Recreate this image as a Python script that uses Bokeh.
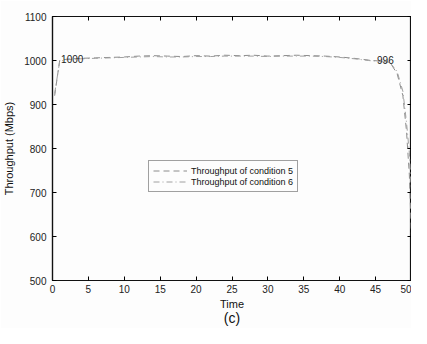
from bokeh.plotting import figure
from bokeh.models import (LinearAxis, Range1d, Legend, LegendItem, FixedTicker,
                          Label, CustomJSTickFormatter)
from bokeh.embed import file_html
from bokeh.resources import INLINE

# --- data ---
time5 = [0.3, 1, 2, 4, 6, 8, 10, 12, 14, 16, 18, 20, 22, 24, 26, 28, 30, 32, 34, 36, 38, 40, 42, 44, 46, 47, 48, 48.8, 49.3, 49.7, 50]
cond5 = [920, 1000, 1003, 1005, 1006, 1007, 1008, 1010, 1011, 1010, 1009, 1011, 1010, 1012, 1011, 1012, 1010, 1011, 1012, 1011, 1010, 1008, 1005, 1001, 998, 996, 970, 920, 840, 740, 600]
time6 = [0.3, 1, 2, 4, 6, 8, 10, 12, 14, 16, 18, 20, 22, 24, 26, 28, 30, 32, 34, 36, 38, 40, 42, 44, 46, 47, 48, 48.8, 49.3, 49.7, 50]
cond6 = [925, 998, 1002, 1004, 1005, 1006, 1007, 1008, 1009, 1008, 1008, 1009, 1009, 1010, 1010, 1010, 1009, 1010, 1010, 1010, 1009, 1007, 1004, 1000, 997, 995, 975, 930, 860, 790, 700]
x_ticks = [0, 5, 10, 15, 20, 25, 30, 35, 40, 45, 50]
y_ticks = [500, 600, 700, 800, 900, 1000, 1100]
ann_t = [1.2, 45.2]
ann_v = [1000, 996]
ann_txt = ["1000", "996"]
caption = "(c)"

FONT = "Liberation Sans"

p = figure(width=411, height=328, output_backend="svg", toolbar_location=None,
           x_range=Range1d(0, 50), y_range=Range1d(500, 1100),
           min_border_left=44, min_border_right=0, min_border_top=16, min_border_bottom=0,
           background_fill_color="#fdfdfd", border_fill_color="#fdfdfd")
p.xgrid.visible = False
p.ygrid.visible = False
p.outline_line_color = "#111111"
p.outline_line_width = 1.2

for ax, ticks in ((p.xaxis[0], x_ticks), (p.yaxis[0], y_ticks)):
    ax.ticker = FixedTicker(ticks=ticks)
    ax.major_tick_in = 4
    ax.major_tick_out = 0
    ax.minor_tick_line_color = None
    ax.axis_line_color = "#111111"
    ax.axis_line_width = 1.2
    ax.major_label_text_font = FONT
    ax.major_label_text_font_size = "10px"
    ax.major_label_text_color = "#222222"
    ax.axis_label_text_font = FONT
    ax.axis_label_text_font_size = "11px"
    ax.axis_label_text_font_style = "normal"
    ax.axis_label_text_color = "#111111"

p.xaxis.axis_label = "Time"
p.yaxis.axis_label = "Throughput (Mbps)"
p.xaxis.major_label_standoff = 4
p.xaxis.axis_label_standoff = 2
p.yaxis.major_label_standoff = 6
p.yaxis.axis_label_standoff = 6

blank = CustomJSTickFormatter(code="return '';")
top = LinearAxis(ticker=FixedTicker(ticks=x_ticks), major_tick_in=4, major_tick_out=0,
                 minor_tick_line_color=None, formatter=blank,
                 major_label_standoff=0, axis_line_color=None)
right = LinearAxis(ticker=FixedTicker(ticks=y_ticks), major_tick_in=4, major_tick_out=0,
                   minor_tick_line_color=None, formatter=blank,
                   major_label_standoff=0, axis_line_color=None)
p.add_layout(top, "above")
p.add_layout(right, "right")

# caption "(c)" as the label of an invisible extra axis below "Time"
cap = LinearAxis(ticker=FixedTicker(ticks=[]), major_tick_in=0, major_tick_out=0,
                 minor_tick_line_color=None, formatter=blank, major_label_standoff=0,
                 axis_line_color=None, axis_label=caption, axis_label_standoff=-3,
                 axis_label_text_font=FONT, axis_label_text_font_size="14px",
                 axis_label_text_font_style="normal", axis_label_text_color="#111111")
p.add_layout(cap, "below")

r5 = p.line(time5, cond5, line_color="#8c8c8c", line_width=1, line_dash="6 4")
r6 = p.line(time6, cond6, line_color="#a0a0a0", line_width=1, line_dash="6 3 1 3")

for t, v, s in zip(ann_t, ann_v, ann_txt):
    p.add_layout(Label(x=t, y=v, text=s, text_font=FONT, text_font_size="10px",
                       text_color="#222222", y_offset=-2))

legend = Legend(items=[LegendItem(label="Throughput of condition 5", renderers=[r5]),
                       LegendItem(label="Throughput of condition 6", renderers=[r6])],
                location=(96, 88), label_text_font=FONT, label_text_font_size="9px",
                label_text_color="#111111", border_line_color="#444444",
                background_fill_color="#fdfdfd", glyph_width=34, glyph_height=11,
                label_height=11, spacing=0, padding=4, margin=0, label_standoff=4)
p.add_layout(legend, "center")

open("out.html", "w").write(file_html(p, INLINE))
